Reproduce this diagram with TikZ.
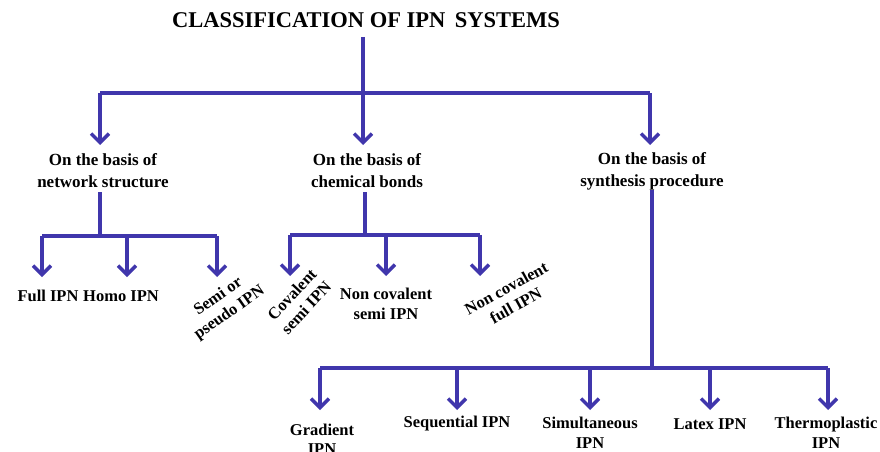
\documentclass[tikz,border=0pt]{standalone}
\usepackage{fontspec}
\setmainfont{Liberation Serif}
\usetikzlibrary{arrows.meta}
\definecolor{lineblue}{RGB}{64,54,172}
\tikzset{
  conn/.style={draw=lineblue, line width=3.4pt},
  arr/.style={conn, -{Straight Barb[length=9pt,width=18pt,line width=3.4pt]}},
  lbl/.style={font=\bfseries\fontsize{17}{22}\selectfont, align=center, inner sep=0pt},
  leaf/.style={font=\bfseries\fontsize{16.5}{19.5}\selectfont, align=center, inner sep=0pt},
}
\begin{document}
\begin{tikzpicture}[x=1pt,y=-1pt]
\useasboundingbox (0,0) rectangle (880,452);
\node[font=\bfseries\fontsize{22.5}{26}\selectfont, inner sep=0pt] (title) at (366,20) {CLASSIFICATION OF IPN\, SYSTEMS};
\coordinate (t0) at (363,37);
\coordinate (hl) at (100,93);
\coordinate (hr) at (650,93);

\node[lbl] (net) at (103,171) {On the basis of\\network structure};
\node[lbl] (chem) at (367,171) {On the basis of\\chemical bonds};
\node[lbl] (syn) at (652,171) {On the basis of\\synthesis procedure};

\draw[conn] (hl) -- (hr);
\draw[arr] (t0) -- (363,145);
\draw[arr] (hl) -- (100,145);
\draw[arr] (hr) -- (650,145);

% network structure
\coordinate (n0) at (100,192);
\coordinate (nl) at (42,236);
\coordinate (nr) at (217,236);
\draw[conn] (n0) -- (100,236);
\draw[conn] (nl) -- (nr);
\draw[arr] (nl) -- (42,277);
\draw[arr] (127,236) -- (127,277);
\draw[arr] (nr) -- (217,277);
\node[leaf] (full) at (48,296) {Full IPN};
\node[leaf] (homo) at (121,296) {Homo IPN};
\node[leaf, rotate=35] (semi) at (224,305) {Semi or\\pseudo IPN};

% chemical bonds
\coordinate (c0) at (365,192);
\coordinate (cl) at (290,235);
\coordinate (cr) at (480,235);
\draw[conn] (c0) -- (365,235);
\draw[conn] (cl) -- (cr);
\draw[arr] (cl) -- (290,276);
\draw[arr] (386,235) -- (386,276);
\draw[arr] (cr) -- (480,276);
\node[leaf, rotate=47] (cov) at (299,301) {Covalent\\semi IPN};
\node[leaf] (ncs) at (386,304) {Non covalent\\semi IPN};
\node[leaf, rotate=29] (ncf) at (511,297) {Non covalent\\full IPN};

% synthesis
\coordinate (s0) at (652,190);
\coordinate (sl) at (320,368);
\coordinate (sr) at (828,368);
\draw[conn] (s0) -- (652,368);
\draw[conn] (sl) -- (sr);
\draw[arr] (sl) -- (320,410);
\draw[arr] (457,368) -- (457,410);
\draw[arr] (590,368) -- (590,410);
\draw[arr] (710,368) -- (710,410);
\draw[arr] (sr) -- (828,410);
\node[leaf] (grad) at (322,439.5) {Gradient\\IPN};
\node[leaf] (seq) at (457,424) {Sequential IPN};
\node[leaf] (sim) at (590,433) {Simultaneous\\IPN};
\node[leaf] (lat) at (710,424) {Latex IPN};
\node[leaf] (thermo) at (826,433) {Thermoplastic\\IPN};
\end{tikzpicture}
\end{document}
